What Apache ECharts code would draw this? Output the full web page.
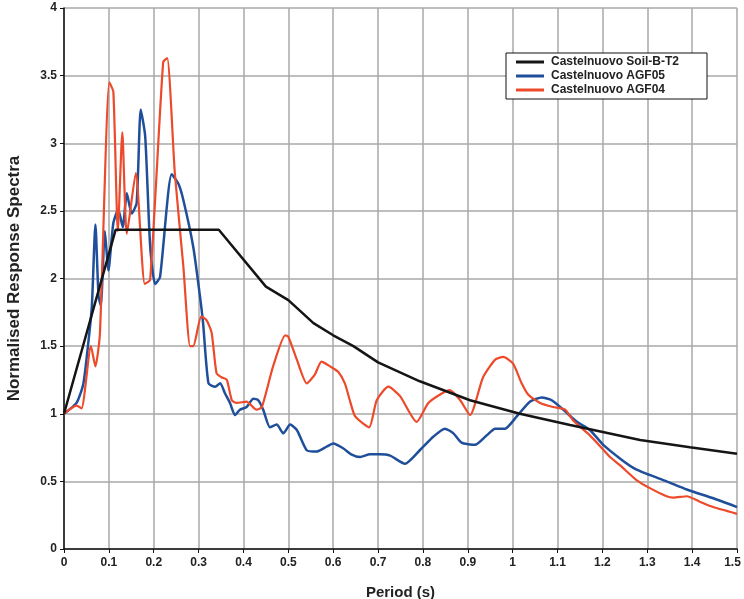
<!DOCTYPE html>
<html>
<head>
<meta charset="utf-8">
<script src="https://cdn.jsdelivr.net/npm/echarts@6/dist/echarts.min.js"></script>
<style>
html,body{margin:0;padding:0;background:#fff;}
#chart{width:744px;height:599px;}
</style>
</head>
<body>
<div id="chart"></div>
<script>
// ---- data ----
const seriesNames = ['Castelnuovo Soil-B-T2', 'Castelnuovo AGF05', 'Castelnuovo AGF04'];

const tBlack = [0, 0.115, 0.345, 0.45, 0.5, 0.556, 0.6, 0.645, 0.70, 0.793, 0.905, 1.016, 1.128, 1.284, 1.395, 1.5];
const vBlack = [1.0, 2.36, 2.36, 1.94, 1.84, 1.67, 1.58, 1.50, 1.38, 1.24, 1.10, 1.0, 0.917, 0.806, 0.752, 0.705];

const tBlue = [0, 0.028, 0.043, 0.054, 0.062, 0.070, 0.077, 0.082, 0.091, 0.099, 0.110, 0.121, 0.131, 0.140, 0.151, 0.162, 0.171, 0.181, 0.192, 0.203, 0.214, 0.240, 0.255, 0.266, 0.288, 0.303, 0.310, 0.322, 0.337, 0.348, 0.359, 0.370, 0.381, 0.392, 0.407, 0.422, 0.433, 0.444, 0.459, 0.474, 0.489, 0.504, 0.519, 0.541, 0.563, 0.585, 0.600, 0.622, 0.640, 0.660, 0.682, 0.704, 0.727, 0.760, 0.793, 0.823, 0.849, 0.868, 0.886, 0.916, 0.942, 0.961, 0.983, 1.009, 1.039, 1.065, 1.087, 1.113, 1.143, 1.172, 1.202, 1.239, 1.269, 1.299, 1.343, 1.388, 1.447, 1.5];
const vBlue = [1.0, 1.08, 1.22, 1.52, 1.79, 2.40, 1.87, 1.80, 2.35, 2.06, 2.41, 2.51, 2.38, 2.63, 2.48, 2.56, 3.25, 3.05, 2.24, 1.96, 2.01, 2.77, 2.70, 2.58, 2.235, 1.87, 1.67, 1.225, 1.20, 1.225, 1.15, 1.08, 0.99, 1.03, 1.05, 1.11, 1.10, 1.03, 0.90, 0.92, 0.855, 0.92, 0.88, 0.73, 0.72, 0.756, 0.78, 0.745, 0.70, 0.68, 0.70, 0.70, 0.69, 0.63, 0.73, 0.83, 0.89, 0.855, 0.786, 0.77, 0.84, 0.89, 0.89, 0.98, 1.09, 1.12, 1.10, 1.03, 0.94, 0.88, 0.77, 0.67, 0.60, 0.555, 0.50, 0.44, 0.375, 0.31];

const tRed = [0, 0.028, 0.039, 0.060, 0.070, 0.080, 0.101, 0.110, 0.120, 0.130, 0.140, 0.160, 0.180, 0.192, 0.221, 0.230, 0.247, 0.266, 0.281, 0.288, 0.306, 0.318, 0.329, 0.340, 0.351, 0.363, 0.374, 0.385, 0.407, 0.429, 0.441, 0.466, 0.493, 0.500, 0.519, 0.541, 0.559, 0.574, 0.593, 0.611, 0.626, 0.637, 0.649, 0.680, 0.697, 0.723, 0.749, 0.786, 0.812, 0.842, 0.860, 0.883, 0.905, 0.934, 0.961, 0.979, 1.001, 1.020, 1.035, 1.061, 1.090, 1.117, 1.135, 1.172, 1.195, 1.217, 1.239, 1.276, 1.306, 1.343, 1.358, 1.388, 1.417, 1.447, 1.5];
const vRed = [1.0, 1.06, 1.04, 1.50, 1.35, 1.59, 3.45, 3.38, 2.35, 3.08, 2.33, 2.78, 1.96, 1.99, 3.60, 3.63, 2.78, 2.09, 1.50, 1.50, 1.72, 1.69, 1.60, 1.30, 1.27, 1.25, 1.10, 1.08, 1.09, 1.03, 1.05, 1.35, 1.58, 1.57, 1.40, 1.225, 1.29, 1.385, 1.35, 1.31, 1.225, 1.10, 0.98, 0.90, 1.10, 1.20, 1.13, 0.94, 1.08, 1.15, 1.175, 1.10, 0.99, 1.27, 1.40, 1.42, 1.37, 1.225, 1.14, 1.08, 1.05, 1.03, 0.95, 0.84, 0.76, 0.68, 0.62, 0.51, 0.45, 0.39, 0.38, 0.39, 0.35, 0.31, 0.26];

const xTickStep = 0.1, xMin = 0, xMax = 1.5;
const yTickStep = 0.5, yMin = 0, yMax = 4;

// ---- build ----
const pairs = (t, v) => t.map((x, i) => [x, v[i]]);
const colors = ['#151515', '#1f4f9a', '#ec4a2a'];
const fmt = v => String(Math.round(v * 10) / 10);
const fmtX = v => (Math.abs(v - xMax) < 1e-9 ? '{m|' + fmt(v) + '}' : fmt(v));
const font = '"Liberation Sans", Arial, sans-serif';

const chart = echarts.init(document.getElementById('chart'), null, {renderer: 'canvas'});
chart.setOption({
  animation: false,
  backgroundColor: '#fff',
  grid: {left: 64, right: 7, top: 8, bottom: 50, containLabel: false, outerBoundsMode: 'none'},
  legend: {
    orient: 'vertical', left: 506, top: 53,
    data: seriesNames,
    backgroundColor: '#fff', borderColor: '#111', borderWidth: 1,
    padding: [3, 28, 3, 10], itemGap: 2,
    itemWidth: 28, itemHeight: 3, icon: 'rect',
    textStyle: {fontFamily: font, fontWeight: 'bold', fontSize: 12, color: '#222', padding: [0, 0, 0, 2]}
  },
  xAxis: {
    type: 'value', min: xMin, max: xMax, interval: xTickStep,
    name: 'Period (s)', nameLocation: 'middle', nameGap: 36,
    nameTextStyle: {fontFamily: font, fontWeight: 'bold', fontSize: 15, color: '#222'},
    axisLine: {show: true, lineStyle: {color: '#111', width: 1.5}},
    axisTick: {show: true, length: 4, lineStyle: {color: '#111'}},
    axisLabel: {formatter: fmtX, fontFamily: font, fontWeight: 'bold', fontSize: 12, color: '#222', margin: 8,
      rich: {m: {fontFamily: font, fontWeight: 'bold', fontSize: 12, color: '#222', padding: [0, 9, 0, 0]}}},
    splitLine: {show: true, lineStyle: {color: '#a8a8a8', width: 1.5}}
  },
  yAxis: {
    type: 'value', min: yMin, max: yMax, interval: yTickStep,
    name: 'Normalised Response Spectra', nameLocation: 'middle', nameGap: 41, nameRotate: 90,
    nameTextStyle: {fontFamily: font, fontWeight: 'bold', fontSize: 17, color: '#222'},
    axisLine: {show: true, lineStyle: {color: '#111', width: 1.5}},
    axisTick: {show: true, length: 4, lineStyle: {color: '#111'}},
    axisLabel: {formatter: fmt, fontFamily: font, fontWeight: 'bold', fontSize: 12, color: '#222', margin: 7},
    splitLine: {show: true, lineStyle: {color: '#a8a8a8', width: 1.5}}
  },
  series: [
    {name: seriesNames[0], type: 'line', data: pairs(tBlack, vBlack), showSymbol: false, z: 5,
     lineStyle: {color: colors[0], width: 2.5}, itemStyle: {color: colors[0]}},
    {name: seriesNames[1], type: 'line', data: pairs(tBlue, vBlue), showSymbol: false, z: 3, smooth: 0.2,
     lineStyle: {color: colors[1], width: 2.5}, itemStyle: {color: colors[1]}},
    {name: seriesNames[2], type: 'line', data: pairs(tRed, vRed), showSymbol: false, z: 4, smooth: 0.2,
     lineStyle: {color: colors[2], width: 2.2}, itemStyle: {color: colors[2]}}
  ]
});
</script>
</body>
</html>
